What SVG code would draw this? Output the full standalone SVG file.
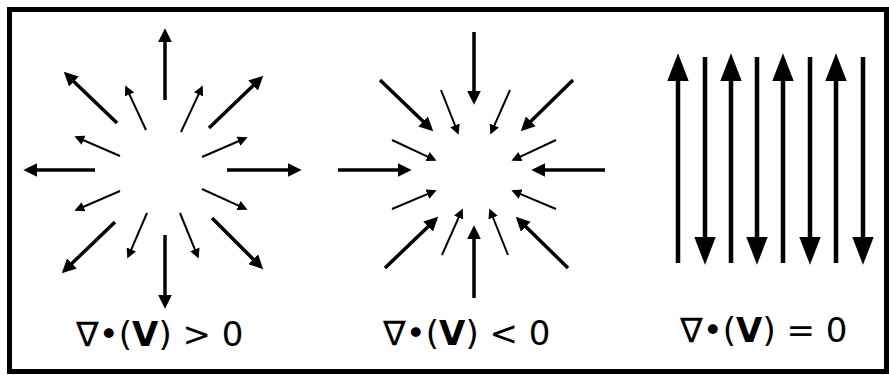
<svg xmlns="http://www.w3.org/2000/svg" width="889" height="375" viewBox="0 0 889 375">
<style>
  .thick { stroke:#000; stroke-width:3.5; fill:none; marker-end:url(#hm); }
  .thin { stroke:#000; stroke-width:2; fill:none; marker-end:url(#hs); }
  .par { stroke:#000; stroke-width:4.5; fill:none; marker-end:url(#hb); }
  .lbl { font-family:"DejaVu Sans", sans-serif; font-size:34px; fill:#000; }
</style>
<defs>
  <marker id="hm" markerUnits="userSpaceOnUse" markerWidth="14" markerHeight="14" viewBox="0 0 12 12" refX="2" refY="6" orient="auto">
    <path d="M0,0 L12,6 L0,12 z" fill="#000"/>
  </marker>
  <marker id="hs" markerUnits="userSpaceOnUse" markerWidth="10" markerHeight="10" viewBox="0 0 8 8" refX="1" refY="4" orient="auto">
    <path d="M0,0 L8,4 L0,8 z" fill="#000"/>
  </marker>
  <marker id="hb" markerUnits="userSpaceOnUse" markerWidth="28" markerHeight="22" viewBox="0 0 26 20" refX="2" refY="10" orient="auto">
    <path d="M0,0 L26,10 L0,20 z" fill="#000"/>
  </marker>
</defs>
<rect x="9.5" y="9.5" width="877" height="362" fill="#fff" stroke="#000" stroke-width="5"/>
<g id="connectors">
  <g id="divergent">
    <line class="thick" x1="165" y1="100" x2="165" y2="40"/>
    <line class="thick" x1="165" y1="235" x2="165" y2="297"/>
    <line class="thick" x1="95" y1="170" x2="35" y2="170"/>
    <line class="thick" x1="227" y1="170" x2="290" y2="170"/>
    <line class="thick" x1="117" y1="123" x2="72.2" y2="79.9"/>
    <line class="thick" x1="209" y1="128" x2="254.8" y2="83.9"/>
    <line class="thick" x1="115" y1="222" x2="70.2" y2="265.1"/>
    <line class="thick" x1="212" y1="218" x2="254.9" y2="260.9"/>
    <line class="thin" x1="146" y1="130" x2="128.95" y2="93.35"/>
    <line class="thin" x1="181" y1="132" x2="199.04" y2="93.34"/>
    <line class="thin" x1="120" y1="156" x2="82.43" y2="139.78"/>
    <line class="thin" x1="202" y1="157" x2="239.57" y2="140.78"/>
    <line class="thin" x1="120" y1="191" x2="82.43" y2="207.22"/>
    <line class="thin" x1="202" y1="189" x2="239.63" y2="206.1"/>
    <line class="thin" x1="147" y1="213" x2="130.78" y2="250.57"/>
    <line class="thin" x1="180" y1="213" x2="195.35" y2="250.52"/>
  </g>
  <g id="convergent">
    <line class="thick" x1="474" y1="32" x2="474" y2="93"/>
    <line class="thick" x1="474" y1="298" x2="474" y2="237"/>
    <line class="thick" x1="338" y1="170" x2="400" y2="170"/>
    <line class="thick" x1="605" y1="170" x2="543" y2="170"/>
    <line class="thick" x1="380" y1="80" x2="424.8" y2="123.1"/>
    <line class="thick" x1="573" y1="80" x2="529.1" y2="123"/>
    <line class="thick" x1="385" y1="268" x2="429.8" y2="224.9"/>
    <line class="thick" x1="568" y1="268" x2="524.1" y2="225"/>
    <line class="thin" x1="441" y1="90" x2="455.42" y2="126.49"/>
    <line class="thin" x1="510" y1="90" x2="493.83" y2="126.6"/>
    <line class="thin" x1="392" y1="140" x2="428.65" y2="157.05"/>
    <line class="thin" x1="556" y1="140" x2="519.35" y2="157.05"/>
    <line class="thin" x1="392" y1="209" x2="428.54" y2="193.7"/>
    <line class="thin" x1="556" y1="209" x2="519.46" y2="193.7"/>
    <line class="thin" x1="442" y1="255" x2="459.16" y2="216.4"/>
    <line class="thin" x1="508" y1="255" x2="492.6" y2="216.5"/>
  </g>
  <g id="zero">
    <line class="par" x1="678" y1="263" x2="678" y2="79"/>
    <line class="par" x1="705" y1="57" x2="705" y2="239"/>
    <line class="par" x1="731" y1="263" x2="731" y2="79"/>
    <line class="par" x1="757" y1="57" x2="757" y2="239"/>
    <line class="par" x1="783" y1="263" x2="783" y2="79"/>
    <line class="par" x1="810" y1="57" x2="810" y2="239"/>
    <line class="par" x1="836" y1="263" x2="836" y2="79"/>
    <line class="par" x1="863" y1="57" x2="863" y2="239"/>
  </g>
</g>
<g id="label-pos">
  <text class="lbl" x="76" y="346">∇•(<tspan font-weight="bold">V</tspan>) &gt; 0</text>
</g>
<g id="label-neg">
  <text class="lbl" x="383" y="345">∇•(<tspan font-weight="bold">V</tspan>) &lt; 0</text>
</g>
<g id="label-zero">
  <text class="lbl" x="680" y="342">∇•(<tspan font-weight="bold">V</tspan>) = 0</text>
</g>
</svg>
